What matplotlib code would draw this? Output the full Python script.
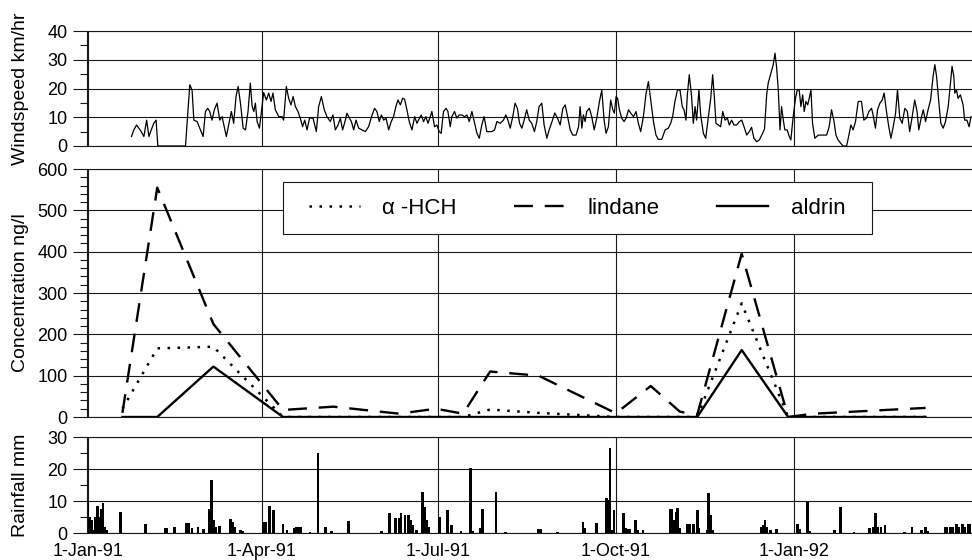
import numpy as np
import matplotlib.pyplot as plt
import matplotlib.dates as mdates
from matplotlib.patches import Rectangle
from matplotlib.ticker import MultipleLocator, FixedLocator, FuncFormatter

plt.rcParams['font.family'] = ['Liberation Sans', 'DejaVu Sans']

# days counted from 1 Jan 1991
wind_day = [
    22.7, 23.9, 25.3, 26.5, 27.7, 29.1, 30.5, 31.7, 32.9, 34.2, 35.4, 36.3,
    50.6, 52.8, 54.0, 54.9, 56.6, 58.3, 59.7, 60.9, 62.1, 63.1, 64.3, 65.5,
    66.9, 68.3, 69.5, 71.7, 72.9, 74.3, 75.5, 76.7, 77.8, 79.0, 80.4, 81.6,
    82.9, 84.1, 85.0, 85.9, 86.7, 87.6, 88.8, 90.2, 91.0, 92.4, 93.6, 94.8,
    95.8, 97.0, 98.8, 100.5, 101.3, 102.7, 103.9, 105.1, 106.2, 107.4, 108.7,
    109.9, 111.1, 112.2, 113.4, 114.7, 116.5, 118.2, 119.4, 120.8, 122.3,
    123.7, 125.4, 126.8,
    128.0, 129.4, 130.6, 131.8, 133.2, 134.0, 135.3, 136.3, 137.5, 138.7,
    140.1, 141.8, 143.5, 145.2, 147.0, 148.3, 149.5, 150.7, 151.8, 153.0,
    154.2, 155.6, 156.9, 158.1, 159.3, 160.4, 161.6, 162.8, 163.8, 165.0,
    166.2, 167.6, 169.0, 170.2, 171.0, 172.4, 173.6, 174.8, 175.9, 177.1,
    177.9, 179.3, 180.5, 181.7, 182.7, 183.9, 185.2, 186.2, 187.4, 188.2,
    189.6, 190.8, 192.0, 193.4, 194.8, 196.0, 197.2, 198.6, 200.0, 201.2,
    202.4, 203.7, 204.9, 206.3, 207.5, 208.9, 210.3, 211.5, 213.2, 214.9,
    216.1, 217.2, 218.4, 219.7, 220.9, 222.1, 223.2, 224.4, 225.6, 226.9,
    228.2, 229.5, 230.9, 232.1, 233.3, 234.7, 235.9, 237.3, 238.5,
    240.0, 241.4, 242.8, 244.2, 245.6, 246.8, 248.0, 249.4, 250.7, 252.4,
    253.7, 254.5, 255.4, 256.2, 257.1, 257.9, 259.3, 260.5, 261.8, 263.1,
    264.5, 265.7, 266.9, 267.9, 269.1, 270.3, 271.4, 272.2, 273.1, 273.9,
    274.8, 276.0, 277.2, 278.3, 279.5, 280.7, 282.1, 283.4, 284.6, 285.8,
    287.2, 288.6, 289.8, 291.0, 292.4, 293.7, 294.9, 296.7, 298.4, 300.1,
    301.3, 302.3, 303.5, 304.8, 306.1, 307.3, 308.2, 309.2, 309.9, 310.9,
    312.1, 313.0, 313.9, 314.7, 315.9, 316.8, 318.2, 319.4, 320.8, 322.0,
    323.0, 323.9, 324.7, 325.9, 327.1, 328.2, 329.4, 330.6, 331.6, 332.8,
    334.0, 335.4, 336.8, 338.0, 339.2, 340.6, 341.9, 343.1, 344.3, 345.7,
    347.1, 348.8, 349.8,
    350.9, 351.7, 353.1, 354.3, 355.2, 356.0, 356.9, 357.8, 358.6, 359.5,
    360.3, 361.5, 362.6, 363.4, 364.6, 365.8, 366.7, 367.7, 368.6, 369.5,
    370.3, 371.2, 372.1, 372.9, 373.8, 374.6, 375.8, 377.6, 379.3, 381.9,
    383.2, 384.4, 385.6, 386.7, 387.8, 389.2, 390.4, 392.2, 393.4, 394.4,
    395.6, 396.8, 398.2, 399.9, 401.1, 402.5, 403.7, 405.1, 405.9, 407.1,
    408.2, 409.4, 410.6, 411.6, 412.8, 414.0, 415.1, 416.3, 417.5, 418.5,
    419.7, 420.9, 422.3, 423.6, 424.8, 426.1, 427.4, 428.6, 429.5, 430.5,
    431.8, 433.0, 434.3, 435.6, 436.9, 437.8, 438.7, 439.9, 440.9, 442.1,
    443.3, 444.7, 445.7, 446.7, 447.6, 448.1, 449.0, 449.8, 451.0, 452.4,
    453.2, 454.4, 455.5, 456.5,
]
wind_kmh = [
    3.3, 5.6, 7.3, 6.2, 5.0, 3.3, 9.0, 3.3, 5.6, 7.9, 9.0, 0.0,
    0.0, 21.3, 19.5, 9.0, 8.5, 5.6, 3.3, 12.0, 13.1, 12.0, 9.0, 12.6,
    14.9, 9.0, 10.2, 3.3, 7.3, 12.0, 7.9, 17.2, 20.7, 14.9, 6.2, 5.6,
    12.0, 21.9, 13.9, 12.0, 14.9, 8.5, 6.2, 13.9, 18.6, 16.0, 18.4, 15.5,
    18.4, 12.6, 10.2, 10.2, 9.0, 20.7, 16.6, 14.3, 17.2, 13.7, 12.0,
    9.7, 6.7, 9.0, 5.6, 9.7, 9.7, 5.0, 13.7, 17.2, 12.6,
    10.2, 8.5, 10.8,
    5.6, 7.3, 9.7, 5.6, 9.0, 11.4, 9.7, 8.5, 5.6, 9.0,
    6.2, 5.6, 5.0, 6.7, 10.8, 13.1, 12.0, 8.5, 10.8, 9.0,
    9.7, 5.6, 8.5, 10.2, 13.7, 16.0, 14.3, 16.6, 16.3, 12.6,
    8.5, 5.6, 10.2, 7.9, 9.0, 10.8, 8.5, 10.2, 7.9, 10.2,
    12.0, 6.7, 7.3, 5.0, 4.4, 12.0, 13.1, 12.0, 6.7, 10.2,
    12.0, 9.7, 10.8, 10.8, 10.2, 10.8, 8.5, 12.0, 7.9, 4.4,
    2.7, 7.3, 10.2, 5.0, 5.0, 5.0, 5.6, 8.5, 7.9, 9.0,
    10.8, 9.0, 6.2, 10.2, 14.9, 13.1, 7.9, 6.2, 9.0, 12.6,
    9.0, 7.9, 5.0, 8.5, 13.7, 14.9, 7.3, 2.7, 5.6,
    8.5, 11.5, 9.7, 7.3, 13.1, 14.3, 10.2, 5.6, 3.8, 3.8,
    6.7, 13.7, 6.2, 10.8, 8.5, 12.0, 13.1, 10.2, 5.6, 9.7,
    15.5, 19.5, 9.0, 4.4, 6.7, 16.0, 12.6, 11.4, 17.2, 16.5,
    12.6, 9.7, 8.5, 9.7, 12.6, 11.4, 10.2, 12.0, 7.9, 5.0,
    10.2, 18.4, 22.4, 16.0, 8.5, 3.8, 2.3, 2.3, 5.6, 6.2,
    7.9, 10.2, 15.5, 19.5, 19.5, 13.7, 12.6, 9.0, 17.8, 24.8,
    17.2, 7.9, 13.7, 9.0, 19.5, 10.8, 4.4, 2.7, 10.2, 16.6,
    24.8, 16.6, 7.9, 7.3, 6.7, 12.0, 9.0, 9.7, 7.3, 9.0,
    7.3, 7.3, 8.5, 9.0, 6.7, 3.8, 5.0, 6.5, 2.7, 1.5,
    2.1, 4.4, 6.0,
    17.8, 21.9, 25.3, 28.3, 32.3, 27.7, 19.5, 5.6, 13.7, 9.0,
    5.6, 5.6, 3.3, 2.1, 10.2, 16.6, 19.5, 19.5, 13.7, 17.8,
    12.0, 15.5, 14.3, 16.6, 19.5, 7.9, 2.7, 3.8, 3.8, 3.8,
    6.7, 12.6, 9.0, 3.8, 2.1, 0.9, 0.0, 0.0, 3.8, 7.3,
    5.6, 8.5, 15.5, 15.5, 9.0, 9.7, 12.0, 13.1, 10.8, 6.2,
    12.6, 14.9, 16.0, 18.4, 12.0, 6.7, 2.7, 6.7, 11.4, 19.5,
    9.7, 7.9, 13.1, 12.0, 5.0, 10.2, 16.0, 12.0, 5.6, 9.0,
    12.6, 8.5, 12.6, 16.0, 24.2, 28.3, 24.2, 14.9, 7.9, 6.2,
    8.5, 13.7, 20.7, 27.7, 24.2, 18.4, 19.5, 16.6, 17.8, 14.3,
    9.0, 9.0, 6.7, 10.2,
]

conc_day = [18, 36, 65, 101, 127, 161, 180, 194, 208, 233, 273, 291, 306,
            315, 338, 362, 375, 392, 433]
lindane = [10, 555, 225, 17, 25, 8, 20, 8, 110, 100, 9, 75, 13,
           5, 395, 0, 8, 12, 22]
alpha_hch = [20, 166, 170, 0, 0, 0, 0, 0, 18, 10, 0, 0, 0,
             0, 275, 0, 0, 0, 0]
aldrin = [0, 0, 122, 0, 0, 0, 0, 0, 0, 0, 0, 0, 0,
          0, 162, 0, 0, 0, 0]

rain_day = [
    0, 1, 2, 3, 4, 5, 6, 7, 8, 9, 10,
    17, 30, 40, 41, 45, 51, 52, 54, 57, 60, 63, 64, 65, 66, 68, 74, 75, 76,
    79, 80, 91, 92, 94, 96, 101, 103, 107, 108, 109, 110, 115, 119, 123,
    126, 135, 152, 156, 159, 161, 162, 164, 166, 167, 168, 170, 173, 174,
    175, 176, 182, 186, 188, 193, 198, 199, 203, 204, 211, 216,
    233, 234, 243, 256, 257, 263, 268, 269, 270, 271, 272, 277, 278, 279,
    280, 283, 284, 287, 301, 302, 303, 304, 305, 306, 310, 311, 313, 315,
    316, 320, 321, 322, 323, 348, 349, 350, 351, 353, 356, 367, 368, 372,
    373, 386, 389, 396, 404, 406, 407, 408, 410, 412, 422, 426, 431, 433,
    434, 443, 444, 446, 447, 449, 450, 452, 453, 455, 456,
]
rain_mm = [
    10, 5, 4, 1, 5, 8.5, 5, 7.5, 9.5, 2, 1,
    6.5, 2.7, 1.7, 1.7, 2, 3, 3, 1.5, 2, 1.1, 7.4, 16.6, 4, 2, 2.3, 4.4, 3.5, 2,
    1, 0.7, 3.5, 3.5, 8.4, 7.2, 2.7, 1, 1.7, 1.8, 1.9, 2, 0.4, 25.1, 1.8,
    0.5, 3.9, 0.7, 6.1, 4.6, 4.6, 6.1, 5.6, 5.6, 4, 2.5, 0.9, 12.7, 8.2,
    4, 2, 5.1, 7.2, 2.5, 0.7, 20.4, 0.6, 1.5, 7.4, 12.8, 0.3,
    1.1, 1.1, 0.4, 3.5, 1.5, 3, 10.8, 10.3, 26.5, 1, 7.2, 6.4, 1.5, 1.3,
    1.3, 4, 0.8, 0.9, 7.6, 7.6, 4, 6.7, 7.9, 1.5, 2.7, 2.7, 2.7, 7.2,
    1.5, 1, 12.6, 5.6, 1, 2, 2.5, 4, 2, 0.8, 1.1, 2.7, 1.3, 9.8,
    0.6, 0.9, 8, 0.4, 1.7, 2, 6.4, 2, 2, 2.5, 0.4, 2, 0.9, 2,
    0.5, 2, 2, 2, 2, 2.7, 2, 2.7, 2, 2.7, 2.7,
]

quarters = ['1991-01-01', '1991-04-01', '1991-07-01', '1991-10-01', '1992-01-01']

start = mdates.date2num(np.datetime64('1991-01-01'))


def to_date(days):
    return start + np.asarray(days, dtype=float)


W, H = 972, 560
LEFT = 87


def panel(top, bottom):
    return [LEFT / W, 1 - bottom / H, 1 - LEFT / W, (bottom - top) / H]


fig = plt.figure(figsize=(W / 100, H / 100), dpi=100)
ax_w = fig.add_axes(panel(31, 146))
ax_c = fig.add_axes(panel(169, 417), sharex=ax_w)
ax_r = fig.add_axes(panel(437, 533), sharex=ax_w)

ink = '#1a1a1a'

ax_w.plot(to_date(wind_day), wind_kmh, color='black', lw=0.9)

l_hch, = ax_c.plot(to_date(conc_day), alpha_hch, color='black', lw=1.8,
                   ls=(0, (1, 3)))
l_lin, = ax_c.plot(to_date(conc_day), lindane, color='black', lw=1.7,
                   ls=(0, (8, 5)))
l_ald, = ax_c.plot(to_date(conc_day), aldrin, color='black', lw=1.7)

ax_r.bar(to_date(rain_day), rain_mm, width=1.4, color='black', align='center')

limits = [(ax_w, 40, 10, 5, 'Windspeed km/hr'),
          (ax_c, 600, 100, 20, 'Concentration ng/l'),
          (ax_r, 30, 10, 5, 'Rainfall mm')]
for ax, top, major, minor, label in limits:
    ax.set_ylim(0, top)
    ax.yaxis.set_major_locator(MultipleLocator(major))
    ax.yaxis.set_minor_locator(MultipleLocator(minor))
    ax.grid(True, which='major', color=ink, lw=0.8)
    ax.set_axisbelow(True)
    ax.spines['right'].set_visible(False)
    for s in ('left', 'top', 'bottom'):
        ax.spines[s].set_color(ink)
        ax.spines[s].set_linewidth(0.8)
    ax.tick_params(axis='y', which='major', length=10, width=0.8,
                   color=ink, labelsize=13, pad=4)
    ax.tick_params(axis='y', which='minor', length=5, width=0.8, color=ink)
    ax.tick_params(axis='x', length=0)
    ax.set_ylabel(label, fontsize=14)
    ax.yaxis.set_label_coords(-0.066, 0.5)

ax_w.set_xlim(to_date(-0.3), to_date(457))
ax_r.xaxis.set_major_locator(FixedLocator(mdates.date2num(np.array(quarters, dtype='datetime64[D]'))))
ax_r.xaxis.set_major_formatter(FuncFormatter(
    lambda v, p: f"{mdates.num2date(v).day}-{mdates.num2date(v):%b-%y}"))
ax_r.tick_params(axis='x', labelsize=13, pad=7.5)
ax_w.tick_params(axis='x', labelbottom=False)
ax_c.tick_params(axis='x', labelbottom=False)

# legend box sits over the gridlines of the concentration panel
frame = Rectangle((283 / W, 1 - 234 / H), (872 - 283) / W, 52 / H,
                  transform=fig.transFigure, facecolor='white',
                  edgecolor=ink, lw=0.8, zorder=4)
ax_c.add_artist(frame)
leg = ax_c.legend([l_hch, l_lin, l_ald], ['\u03b1 -HCH', 'lindane', 'aldrin'],
                  ncol=3, loc='center', bbox_to_anchor=(577 / W, 1 - 208 / H),
                  bbox_transform=fig.transFigure, frameon=False, fontsize=16,
                  handlelength=2.3, handletextpad=1.0, columnspacing=2.6)
leg.set_zorder(5)

fig.savefig('out.png', dpi=100)
